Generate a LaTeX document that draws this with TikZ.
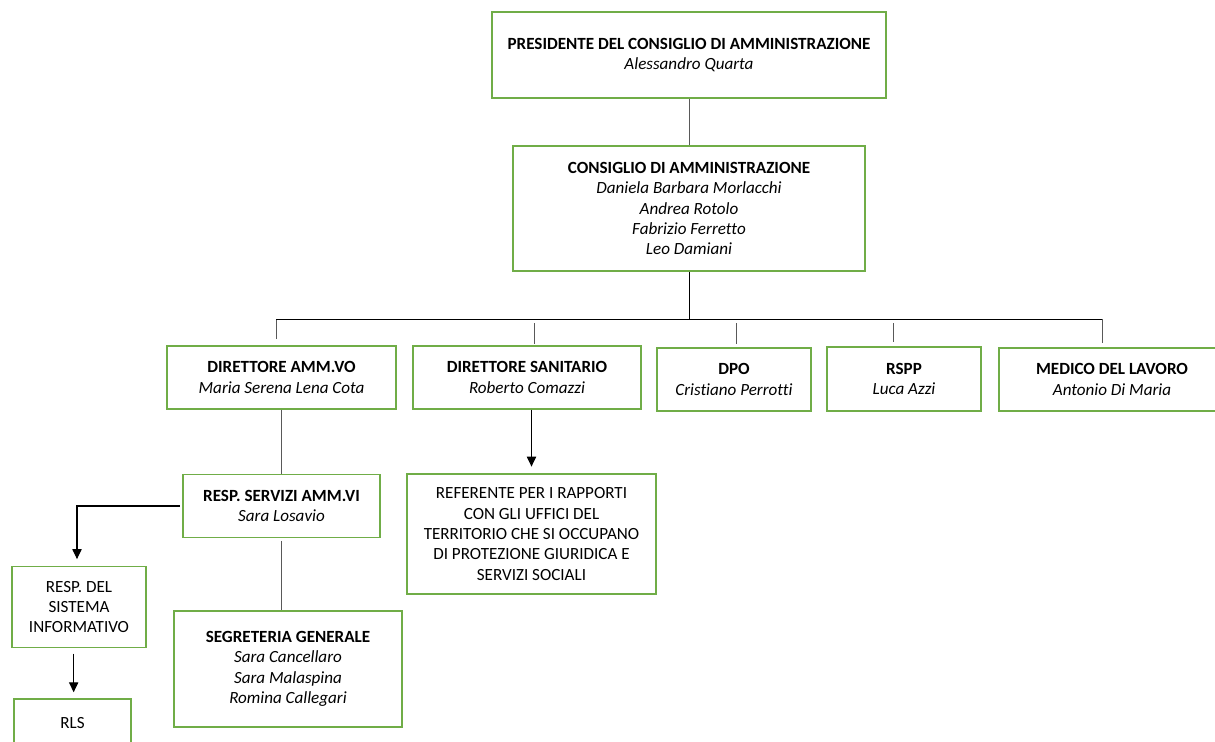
\documentclass[tikz,border=0pt]{standalone}
\usepackage{fontspec}
\setmainfont{Carlito}[Ligatures={NoCommon}]
\usetikzlibrary{arrows.meta}
\definecolor{boxgreen}{HTML}{70AD47}
\definecolor{conngray}{HTML}{595959}
\begin{document}
\begin{tikzpicture}[x=0.75pt,y=-0.75pt,
  box/.style={draw=boxgreen,line width=1.1pt,align=center,inner sep=0pt,fill=white,
    font=\fontsize{12.8}{15.3}\selectfont},
  sz/.style 2 args={minimum width=#1*0.75pt,minimum height=#2*0.75pt},
  conn/.style={draw=conngray,line width=0.75pt},
  arr/.style={draw=black,line width=0.8pt,-{Triangle[length=7.5pt,width=7pt]}}
]
\useasboundingbox (0,0) rectangle (1215,742);

\node[box,sz={394}{86}] (pres) at (689,55) {\textbf{PRESIDENTE DEL CONSIGLIO DI AMMINISTRAZIONE}\\\textit{Alessandro Quarta}};
\node[box,sz={352}{125}] (cda) at (689,208.5) {\textbf{CONSIGLIO DI AMMINISTRAZIONE}\\\textit{Daniela Barbara Morlacchi}\\\textit{Andrea Rotolo}\\\textit{Fabrizio Ferretto}\\\textit{Leo Damiani}};
\node[box,sz={229}{63}] (dam) at (281.5,377.5) {\textbf{DIRETTORE AMM.VO}\\\textit{Maria Serena Lena Cota}};
\node[box,sz={228}{63}] (ds) at (527,377.5) {\textbf{DIRETTORE SANITARIO}\\\textit{Roberto Comazzi}};
\node[box,sz={154}{63}] (dpo) at (734,379.5) {\textbf{DPO}\\\textit{Cristiano Perrotti}};
\node[box,sz={154}{64}] (rspp) at (904,379) {\textbf{RSPP}\\\textit{Luca Azzi}};
\node[box,sz={226}{63}] (med) at (1112,379.5) {\textbf{MEDICO DEL LAVORO}\\\textit{Antonio Di Maria}};
\node[box,sz={249}{120}] (ref) at (531.5,534) {REFERENTE PER I RAPPORTI\\CON GLI UFFICI DEL\\TERRITORIO CHE SI OCCUPANO\\DI PROTEZIONE GIURIDICA E\\SERVIZI SOCIALI};
\node[box,sz={197}{63}] (resp) at (281.5,506) {\textbf{RESP. SERVIZI AMM.VI}\\\textit{Sara Losavio}};
\node[box,sz={134}{81}] (rsi) at (79,607) {RESP. DEL\\SISTEMA\\INFORMATIVO};
\node[box,sz={228}{116}] (seg) at (288,669) {\textbf{SEGRETERIA GENERALE}\\\textit{Sara Cancellaro}\\\textit{Sara Malaspina}\\\textit{Romina Callegari}};
\node[box,sz={117}{48}] (rls) at (72.5,723) {RLS};

% bus coordinates
\coordinate (busL) at (276,319);
\coordinate (busR) at (1102,319);
\coordinate (sdam) at (276,339);
\coordinate (sds1) at (534,323);
\coordinate (sds2) at (534,344);
\coordinate (sdpo1) at (736,323);
\coordinate (sdpo2) at (736,344);
\coordinate (srs1) at (893,323);
\coordinate (srs2) at (893,342);
\coordinate (smed) at (1102,343);
\coordinate (rsiTop) at (77,505.5);

\draw[conn] (pres.south) -- (cda.north);
\draw[conn,draw=black] (cda.south) -- (cda.south |- busL);
\draw[conn] (sdam) -- (busL);
\draw[draw=black,line width=0.6pt] (busL) -- (busR);
\draw[conn] (busR) -- (smed);
\draw[conn] (sds1) -- (sds2);
\draw[conn] (sdpo1) -- (sdpo2);
\draw[conn] (srs1) -- (srs2);

\draw[conn] (dam.south) -- (resp.north);
\draw[conn] ([yshift=-2pt]resp.south) -- (resp.south |- seg.north);
\draw[arr,shorten >=5pt] (ref.north |- ds.south) -- (ref.north);
\draw[arr,shorten >=5pt] ([xshift=-2pt]resp.west) -| (rsiTop |- rsi.north);
\draw[arr,shorten <=4pt,shorten >=4.5pt] ([xshift=-4pt]rsi.south) -- ([xshift=-4pt]rsi.south |- rls.north);
\end{tikzpicture}
\end{document}
